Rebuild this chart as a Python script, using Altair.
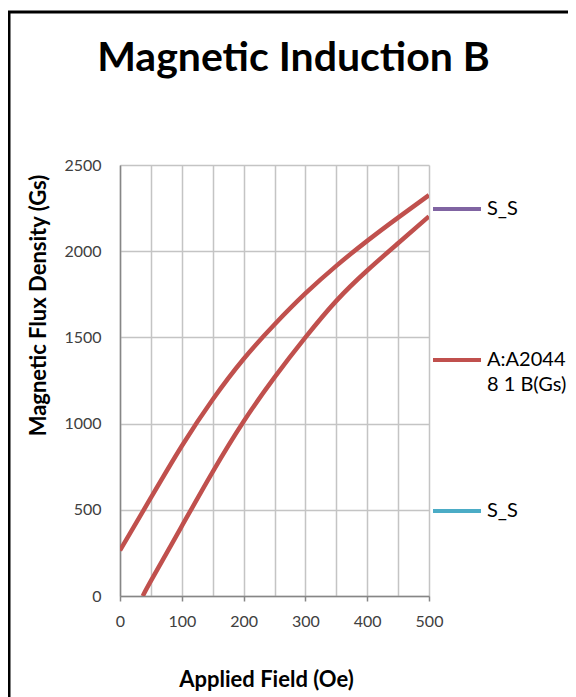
import altair as alt
import pandas as pd

# ---- data ----
upper_x = [0, 50, 100, 150, 200, 250, 300, 350, 400, 450, 500]
upper_y = [264, 570, 870, 1140, 1375, 1575, 1755, 1915, 2060, 2195, 2325]
lower_x = [37, 50, 100, 150, 200, 250, 300, 350, 400, 450, 500]
lower_y = [0, 88, 405, 720, 1012, 1268, 1500, 1712, 1888, 2046, 2202]

series_names = ["S_S#1", "A:A2044 8 1 B(Gs)", "S_S#2"]
series_colors = ["#8064A2", "#C0504D", "#4BACC6"]
x_ticks = list(range(0, 501, 50))
y_ticks = [0, 500, 1000, 1500, 2000, 2500]

rows = []
for x, y in zip(upper_x, upper_y):
    rows.append({"H": x, "B": y, "series": series_names[1], "branch": "upper"})
for x, y in zip(lower_x, lower_y):
    rows.append({"H": x, "B": y, "series": series_names[1], "branch": "lower"})
df = pd.DataFrame(rows)

FONT = "Lato"
GRID = "#C4C4C4"
AXIS = "#868686"

lines = alt.Chart(df).mark_line(strokeWidth=4.5, interpolate="natural", clip=True).encode(
    x=alt.X("H:Q", scale=alt.Scale(domain=[0, 500], nice=False),
            axis=alt.Axis(values=x_ticks, title="Applied Field (Oe)", labelFlush=False,
                          labelExpr="datum.value % 100 == 0 ? datum.label : ''",
                          tickOpacity={"condition": {"test": "datum.value % 100 != 0", "value": 0}, "value": 1},
                          tickSize=5, tickColor=AXIS, tickWidth=1.5,
                          domainColor=AXIS, domainWidth=1.5,
                          gridColor=GRID, gridWidth=1.5,
                          labelFont=FONT, labelFontSize=16, labelColor="#404040", labelPadding=12,
                          titleFont=FONT, titleFontSize=22, titleFontWeight="bold", titleColor="#000000",
                          titleX=146, titleY=90, titleBaseline="alphabetic")),
    y=alt.Y("B:Q", scale=alt.Scale(domain=[0, 2500], nice=False),
            axis=alt.Axis(values=y_ticks, title="Magnetic Flux Density (Gs)", format="d",
                          labelFlush=False,
                          ticks=False, domainColor=AXIS, domainWidth=1.5,
                          gridColor=GRID, gridWidth=1.5,
                          labelFont=FONT, labelFontSize=16, labelColor="#404040", labelPadding=19,
                          titleFont=FONT, titleFontSize=22, titleFontWeight="bold", titleColor="#000000",
                          titleX=-75, titleY=140, titleAngle=270, titleAlign="center",
                          titleBaseline="alphabetic")),
    color=alt.Color("series:N",
                    scale=alt.Scale(domain=series_names, range=series_colors),
                    legend=alt.Legend(title=None, orient="none", legendX=311, legendY=18,
                                      symbolType="stroke", symbolSize=2304, symbolStrokeWidth=4,
                                      labelFont=FONT, labelFontSize=20, labelColor="#000000",
                                      labelOffset=4, rowPadding=90, padding=0, labelLimit=300,
                                      labelExpr="datum.label == 'A:A2044 8 1 B(Gs)' ? ['A:A2044', '8 1 B(Gs)'] : ['S_S', '']")),
    detail="branch:N",
)

frame = alt.Chart(alt.Data(values=[{}])).mark_rect(filled=False, color="#000000", strokeWidth=3).encode(
    x=alt.value(-111), x2=alt.value(800), y=alt.value(-153), y2=alt.value(900)
)

chart = alt.layer(lines, frame).properties(
    width=309, height=431,
    title=alt.Title("Magnetic Induction B", font=FONT, fontSize=41, fontWeight="bold",
                    color="#000000", anchor="middle", dx=19, offset=-69),
    autosize=alt.AutoSizeParams(type="none"),
    padding={"left": 112, "top": 157, "right": 139, "bottom": 101},
).configure(
    style={"guide-label": {"lineHeight": 25}},
    view=alt.ViewConfig(stroke="transparent"),
)

chart.save("out.html", embed_options={"renderer": "svg", "actions": False})
